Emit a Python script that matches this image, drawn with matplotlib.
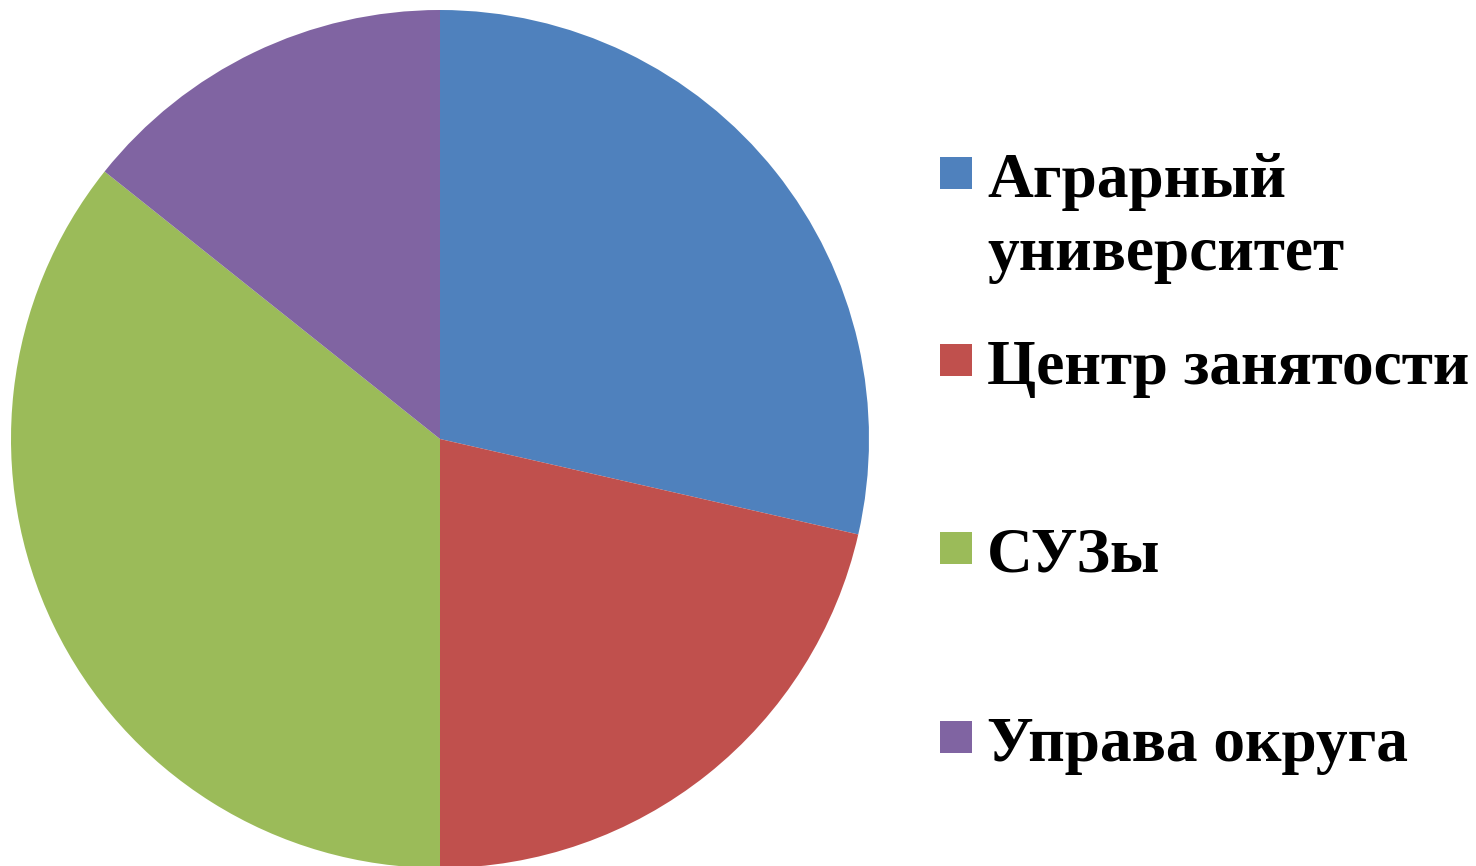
import matplotlib
matplotlib.use("Agg")
import matplotlib.pyplot as plt
from matplotlib.patches import Rectangle

labels = ['Аграрный\nуниверситет', 'Центр занятости', 'СУЗы', 'Управа округа']
values = [4, 3, 5, 2]
colors = ['#4F81BD', '#C0504D', '#9BBB59', '#8064A2']

W, H = 1476, 866
fig = plt.figure(figsize=(W / 100, H / 100), dpi=100)

# pie placed in pixel coords: centre (440, 439), radius 429
cx, cy, r = 440, 439, 429
ax = fig.add_axes([(cx - r) / W, (H - cy - r) / H, 2 * r / W, 2 * r / H])
ax.pie(values, colors=colors, startangle=90, counterclock=False,
       radius=1, wedgeprops={'linewidth': 0})
ax.set_xlim(-1, 1)
ax.set_ylim(-1, 1)
ax.set_aspect('equal')
ax.axis('off')

# hand-placed legend, one text per line so line gap matches
marker_y = [173, 360, 548, 737]
line_gap = 73
for lab, col, my in zip(labels, colors, marker_y):
    fig.patches.append(Rectangle((940 / W, (H - my - 16) / H), 32 / W, 32 / H,
                                 transform=fig.transFigure, facecolor=col,
                                 edgecolor='none'))
    for i, line in enumerate(lab.split('\n')):
        fig.text(987 / W, (H - my - 24 - i * line_gap) / H, line, fontsize=45.6,
                 family='Liberation Serif', weight='bold', color='black',
                 va='baseline', ha='left')

fig.savefig('out.png', dpi=100)
